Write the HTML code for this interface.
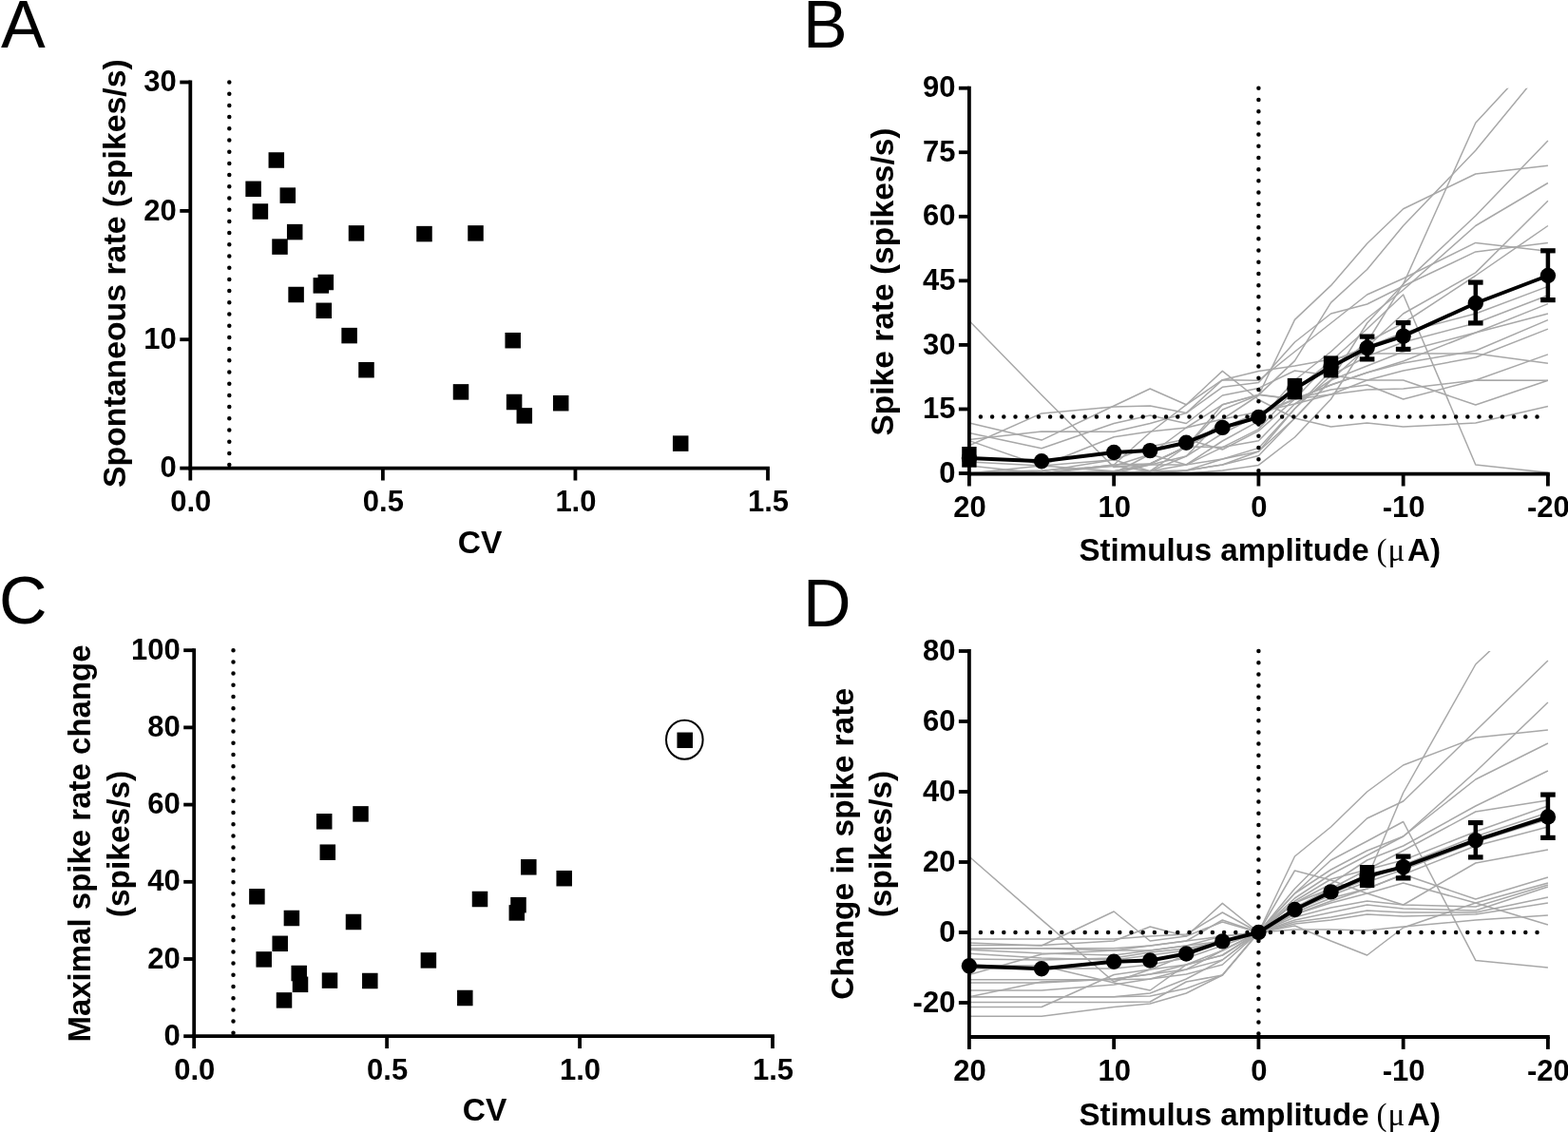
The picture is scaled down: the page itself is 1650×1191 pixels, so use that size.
<!DOCTYPE html>
<html><head><meta charset="utf-8"><title>Figure</title>
<style>html,body{margin:0;padding:0;background:#fff;} svg{display:block;} text{font-family:'Liberation Sans', Arial, Helvetica, sans-serif;fill:#000;}</style>
</head><body>
<svg width="1650" height="1191" viewBox="0 0 1650 1191">
<rect width="1650" height="1191" fill="#fff"/>
<text x='1' y='49.5' font-size='70' font-weight='normal' text-anchor='start'>A</text>
<text x='845' y='50' font-size='70' font-weight='normal' text-anchor='start'>B</text>
<text x='-1' y='656' font-size='70' font-weight='normal' text-anchor='start'>C</text>
<text x='845' y='659' font-size='70' font-weight='normal' text-anchor='start'>D</text>
<line x1='200.3' y1='84.6' x2='200.3' y2='494.5' stroke='#000' stroke-width='3.8'/>
<line x1='198.4' y1='492.6' x2='809.9' y2='492.6' stroke='#000' stroke-width='3.8'/>
<line x1='189.3' y1='86.5' x2='200.3' y2='86.5' stroke='#000' stroke-width='3.8'/>
<text x='185.8' y='96.1' font-size='31' font-weight='bold' text-anchor='end'>30</text>
<line x1='189.3' y1='221.9' x2='200.3' y2='221.9' stroke='#000' stroke-width='3.8'/>
<text x='185.8' y='231.5' font-size='31' font-weight='bold' text-anchor='end'>20</text>
<line x1='189.3' y1='357.2' x2='200.3' y2='357.2' stroke='#000' stroke-width='3.8'/>
<text x='185.8' y='366.8' font-size='31' font-weight='bold' text-anchor='end'>10</text>
<line x1='189.3' y1='492.6' x2='200.3' y2='492.6' stroke='#000' stroke-width='3.8'/>
<text x='185.8' y='502.2' font-size='31' font-weight='bold' text-anchor='end'>0</text>
<line x1='200.3' y1='492.6' x2='200.3' y2='505.5' stroke='#000' stroke-width='3.8'/>
<text x='200.8' y='537.5' font-size='31' font-weight='bold' text-anchor='middle'>0.0</text>
<line x1='402.87' y1='492.6' x2='402.87' y2='505.5' stroke='#000' stroke-width='3.8'/>
<text x='403.37' y='537.5' font-size='31' font-weight='bold' text-anchor='middle'>0.5</text>
<line x1='605.43' y1='492.6' x2='605.43' y2='505.5' stroke='#000' stroke-width='3.8'/>
<text x='605.93' y='537.5' font-size='31' font-weight='bold' text-anchor='middle'>1.0</text>
<line x1='808' y1='492.6' x2='808' y2='505.5' stroke='#000' stroke-width='3.8'/>
<text x='808.5' y='537.5' font-size='31' font-weight='bold' text-anchor='middle'>1.5</text>
<line x1='241.3' y1='86.5' x2='241.3' y2='490.6' stroke='#000' stroke-width='4.5' stroke-linecap='round' stroke-dasharray='0 12.2'/>
<rect x='282.55' y='160.25' width='16.5' height='16.5' fill='#000'/>
<rect x='258.35' y='190.55' width='16.5' height='16.5' fill='#000'/>
<rect x='294.55' y='197.35' width='16.5' height='16.5' fill='#000'/>
<rect x='265.65' y='214.25' width='16.5' height='16.5' fill='#000'/>
<rect x='301.95' y='235.85' width='16.5' height='16.5' fill='#000'/>
<rect x='366.75' y='237.15' width='16.5' height='16.5' fill='#000'/>
<rect x='438.25' y='237.85' width='16.5' height='16.5' fill='#000'/>
<rect x='492.25' y='237.15' width='16.5' height='16.5' fill='#000'/>
<rect x='286.25' y='251.35' width='16.5' height='16.5' fill='#000'/>
<rect x='334.55' y='288.75' width='16.5' height='16.5' fill='#000'/>
<rect x='329.55' y='292.15' width='16.5' height='16.5' fill='#000'/>
<rect x='303.35' y='301.75' width='16.5' height='16.5' fill='#000'/>
<rect x='332.55' y='318.55' width='16.5' height='16.5' fill='#000'/>
<rect x='359.35' y='344.85' width='16.5' height='16.5' fill='#000'/>
<rect x='377.25' y='380.95' width='16.5' height='16.5' fill='#000'/>
<rect x='476.75' y='404.15' width='16.5' height='16.5' fill='#000'/>
<rect x='531.45' y='349.95' width='16.5' height='16.5' fill='#000'/>
<rect x='532.85' y='414.75' width='16.5' height='16.5' fill='#000'/>
<rect x='543.55' y='429.15' width='16.5' height='16.5' fill='#000'/>
<rect x='581.95' y='415.95' width='16.5' height='16.5' fill='#000'/>
<rect x='707.95' y='458.35' width='16.5' height='16.5' fill='#000'/>
<text x='131.5' y='513' font-size='33.8' font-weight='bold' text-anchor='start' transform='rotate(-90 131.5 513)'>Spontaneous rate (spikes/s)</text>
<text x='505' y='581.5' font-size='33.5' font-weight='bold' text-anchor='middle'>CV</text>
<line x1='204.2' y1='682.3' x2='204.2' y2='1092.1' stroke='#000' stroke-width='3.8'/>
<line x1='202.3' y1='1090.2' x2='814.9' y2='1090.2' stroke='#000' stroke-width='3.8'/>
<line x1='193.2' y1='684.2' x2='204.2' y2='684.2' stroke='#000' stroke-width='3.8'/>
<text x='189.7' y='693.8' font-size='31' font-weight='bold' text-anchor='end'>100</text>
<line x1='193.2' y1='765.4' x2='204.2' y2='765.4' stroke='#000' stroke-width='3.8'/>
<text x='189.7' y='775' font-size='31' font-weight='bold' text-anchor='end'>80</text>
<line x1='193.2' y1='846.6' x2='204.2' y2='846.6' stroke='#000' stroke-width='3.8'/>
<text x='189.7' y='856.2' font-size='31' font-weight='bold' text-anchor='end'>60</text>
<line x1='193.2' y1='927.8' x2='204.2' y2='927.8' stroke='#000' stroke-width='3.8'/>
<text x='189.7' y='937.4' font-size='31' font-weight='bold' text-anchor='end'>40</text>
<line x1='193.2' y1='1009' x2='204.2' y2='1009' stroke='#000' stroke-width='3.8'/>
<text x='189.7' y='1018.6' font-size='31' font-weight='bold' text-anchor='end'>20</text>
<line x1='193.2' y1='1090.2' x2='204.2' y2='1090.2' stroke='#000' stroke-width='3.8'/>
<text x='189.7' y='1099.8' font-size='31' font-weight='bold' text-anchor='end'>0</text>
<line x1='204.2' y1='1090.2' x2='204.2' y2='1103.1' stroke='#000' stroke-width='3.8'/>
<text x='204.7' y='1135.5' font-size='31' font-weight='bold' text-anchor='middle'>0.0</text>
<line x1='407.13' y1='1090.2' x2='407.13' y2='1103.1' stroke='#000' stroke-width='3.8'/>
<text x='407.63' y='1135.5' font-size='31' font-weight='bold' text-anchor='middle'>0.5</text>
<line x1='610.07' y1='1090.2' x2='610.07' y2='1103.1' stroke='#000' stroke-width='3.8'/>
<text x='610.57' y='1135.5' font-size='31' font-weight='bold' text-anchor='middle'>1.0</text>
<line x1='813' y1='1090.2' x2='813' y2='1103.1' stroke='#000' stroke-width='3.8'/>
<text x='813.5' y='1135.5' font-size='31' font-weight='bold' text-anchor='middle'>1.5</text>
<line x1='245.5' y1='684.2' x2='245.5' y2='1088.2' stroke='#000' stroke-width='4.5' stroke-linecap='round' stroke-dasharray='0 12.2'/>
<rect x='371.25' y='848.15' width='16.5' height='16.5' fill='#000'/>
<rect x='332.95' y='856.05' width='16.5' height='16.5' fill='#000'/>
<rect x='336.55' y='888.45' width='16.5' height='16.5' fill='#000'/>
<rect x='262.15' y='935.05' width='16.5' height='16.5' fill='#000'/>
<rect x='496.75' y='937.75' width='16.5' height='16.5' fill='#000'/>
<rect x='298.65' y='957.75' width='16.5' height='16.5' fill='#000'/>
<rect x='363.75' y='961.75' width='16.5' height='16.5' fill='#000'/>
<rect x='286.45' y='984.55' width='16.5' height='16.5' fill='#000'/>
<rect x='269.45' y='1001.15' width='16.5' height='16.5' fill='#000'/>
<rect x='442.65' y='1002.15' width='16.5' height='16.5' fill='#000'/>
<rect x='306.45' y='1015.75' width='16.5' height='16.5' fill='#000'/>
<rect x='307.75' y='1027.55' width='16.5' height='16.5' fill='#000'/>
<rect x='338.75' y='1023.35' width='16.5' height='16.5' fill='#000'/>
<rect x='381.05' y='1023.75' width='16.5' height='16.5' fill='#000'/>
<rect x='290.75' y='1044.15' width='16.5' height='16.5' fill='#000'/>
<rect x='481.05' y='1041.75' width='16.5' height='16.5' fill='#000'/>
<rect x='548.05' y='904.05' width='16.5' height='16.5' fill='#000'/>
<rect x='585.45' y='915.95' width='16.5' height='16.5' fill='#000'/>
<rect x='537.25' y='943.95' width='16.5' height='16.5' fill='#000'/>
<rect x='535.55' y='952.15' width='16.5' height='16.5' fill='#000'/>
<rect x='712.45' y='770.55' width='16.5' height='16.5' fill='#000'/>
<ellipse cx='720.3' cy='778.2' rx='19.3' ry='20.5' fill='none' stroke='#000' stroke-width='2'/>
<text x='95.4' y='887.5' font-size='33' font-weight='bold' text-anchor='middle' transform='rotate(-90 95.4 887.5)'>Maximal spike rate change</text>
<text x='135.7' y='888' font-size='33.5' font-weight='bold' text-anchor='middle' transform='rotate(-90 135.7 888)'>(spikes/s)</text>
<text x='510' y='1179.3' font-size='33.5' font-weight='bold' text-anchor='middle'>CV</text>
<clipPath id='clip10697'><rect x='1019.9' y='92.8' width='611' height='405.8'/></clipPath>
<g clip-path='url(#clip10697)' fill='none' stroke='#a8a8a8' stroke-width='1.5' stroke-linejoin='round'>
<polyline points='1019.9,498 1096.03,498 1172.15,498 1210.21,489 1248.28,480 1286.34,441 1324.4,416 1362.46,336.4 1400.53,300.4 1438.59,256.2 1476.65,219.8 1552.78,183 1628.9,174.3'/>
<polyline points='1019.9,498 1096.03,498 1172.15,495.7 1210.21,488 1248.28,470 1286.34,431 1324.4,415.6 1362.46,379.6 1400.53,318.4 1438.59,283.5 1476.65,237.6 1552.78,158.2 1628.9,65.7'/>
<polyline points='1019.9,498 1096.03,498 1172.15,498 1210.21,495.7 1248.28,495 1286.34,483 1324.4,475 1362.46,440 1400.53,400 1438.59,340 1476.65,299 1552.78,129.3 1628.9,47'/>
<polyline points='1019.9,498 1096.03,498 1172.15,498 1210.21,498 1248.28,498 1286.34,495 1324.4,489.4 1362.46,460 1400.53,420 1438.59,360 1476.65,298.6 1552.78,227 1628.9,148.1'/>
<polyline points='1019.9,490 1096.03,498 1172.15,498 1210.21,478 1248.28,489 1286.34,464 1324.4,443.1 1362.46,400 1400.53,370 1438.59,335 1476.65,305 1552.78,237.5 1628.9,192.5'/>
<polyline points='1019.9,498 1096.03,490 1172.15,495.7 1210.21,498 1248.28,495 1286.34,489 1324.4,479.5 1362.46,440 1400.53,400 1438.59,365 1476.65,330 1552.78,286.9 1628.9,211.3'/>
<polyline points='1019.9,498 1096.03,498 1172.15,498 1210.21,498 1248.28,495 1286.34,489 1324.4,475 1362.46,430 1400.53,390 1438.59,360 1476.65,340 1552.78,290 1628.9,237.5'/>
<polyline points='1019.9,462.6 1096.03,454 1172.15,454.2 1210.21,445.5 1248.28,434.6 1286.34,399.7 1324.4,400.3 1362.46,370 1400.53,340 1438.59,310 1476.65,293 1552.78,255.4 1628.9,264.2'/>
<polyline points='1019.9,468.7 1096.03,434.9 1172.15,428 1210.21,427 1248.28,434.6 1286.34,407.3 1324.4,402.5 1362.46,360 1400.53,330 1438.59,320 1476.65,301 1552.78,264.9 1628.9,255.4'/>
<polyline points='1019.9,498 1096.03,498 1172.15,489 1210.21,488 1248.28,470 1286.34,470.6 1324.4,451.6 1362.46,410 1400.53,380 1438.59,365 1476.65,350 1552.78,330 1628.9,301.4'/>
<polyline points='1019.9,497 1096.03,495 1172.15,490.3 1210.21,495.7 1248.28,489 1286.34,483 1324.4,471.4 1362.46,430 1400.53,395 1438.59,375 1476.65,360 1552.78,340 1628.9,310.8'/>
<polyline points='1019.9,498 1096.03,498 1172.15,495.7 1210.21,489 1248.28,489 1286.34,470.6 1324.4,463.8 1362.46,425 1400.53,400 1438.59,385 1476.65,370 1552.78,350 1628.9,319.6'/>
<polyline points='1019.9,498 1096.03,498 1172.15,498 1210.21,495.7 1248.28,480 1286.34,456 1324.4,437.2 1362.46,420 1400.53,405 1438.59,392 1476.65,382 1552.78,369 1628.9,336.6'/>
<polyline points='1019.9,463.6 1096.03,490 1172.15,459.7 1210.21,454 1248.28,450 1286.34,441 1324.4,433.2 1362.46,425 1400.53,415 1438.59,400 1476.65,390 1552.78,376 1628.9,346.1'/>
<polyline points='1019.9,498 1096.03,498 1172.15,489 1210.21,455 1248.28,425.8 1286.34,399.7 1324.4,390.4 1362.46,385 1400.53,378 1438.59,372 1476.65,372 1552.78,372 1628.9,382.3'/>
<polyline points='1019.9,498 1096.03,498 1172.15,490.3 1210.21,478 1248.28,450 1286.34,425.8 1324.4,415.1 1362.46,420 1400.53,410 1438.59,405 1476.65,420 1552.78,400 1628.9,372.9'/>
<polyline points='1019.9,498 1096.03,496 1172.15,483.7 1210.21,495.7 1248.28,470 1286.34,425.8 1324.4,415.6 1362.46,420 1400.53,415 1438.59,410 1476.65,409 1552.78,400 1628.9,400.2'/>
<polyline points='1019.9,455.6 1096.03,471.7 1172.15,445.5 1210.21,437 1248.28,445.5 1286.34,416 1324.4,408.4 1362.46,390 1400.53,395 1438.59,400 1476.65,400 1552.78,426 1628.9,400.2'/>
<polyline points='1019.9,445 1096.03,463.1 1172.15,427 1210.21,409 1248.28,425.8 1286.34,390.4 1324.4,420.5 1362.46,440 1400.53,449 1438.59,445 1476.65,449 1552.78,445 1628.9,427.4'/>
<polyline points='1019.9,486 1096.03,490 1172.15,483.7 1210.21,470 1248.28,462 1286.34,473 1324.4,453.4 1362.46,420 1400.53,380 1438.59,346 1476.65,310 1552.78,489 1628.9,497.3'/>
<polyline points='1019.9,337.5 1096.03,415.6 1172.15,491.6 1210.21,488 1248.28,470 1286.34,450 1324.4,434.1 1362.46,420 1400.53,405 1438.59,392 1476.65,380 1552.78,350 1628.9,330'/>
</g>
<line x1='1031.9' y1='438.6' x2='1628.9' y2='438.6' stroke='#000' stroke-width='4.5' stroke-linecap='round' stroke-dasharray='0 12.2'/>
<line x1='1324.4' y1='92.73' x2='1324.4' y2='496.6' stroke='#000' stroke-width='4.5' stroke-linecap='round' stroke-dasharray='0 12.2'/>
<line x1='1019.9' y1='90.83' x2='1019.9' y2='500.5' stroke='#000' stroke-width='3.8'/>
<line x1='1018' y1='498.6' x2='1630.8' y2='498.6' stroke='#000' stroke-width='3.8'/>
<line x1='1008.9' y1='92.73' x2='1019.9' y2='92.73' stroke='#000' stroke-width='3.8'/>
<text x='1005.4' y='102.33' font-size='31' font-weight='bold' text-anchor='end'>90</text>
<line x1='1008.9' y1='160.27' x2='1019.9' y2='160.27' stroke='#000' stroke-width='3.8'/>
<text x='1005.4' y='169.87' font-size='31' font-weight='bold' text-anchor='end'>75</text>
<line x1='1008.9' y1='227.82' x2='1019.9' y2='227.82' stroke='#000' stroke-width='3.8'/>
<text x='1005.4' y='237.42' font-size='31' font-weight='bold' text-anchor='end'>60</text>
<line x1='1008.9' y1='295.37' x2='1019.9' y2='295.37' stroke='#000' stroke-width='3.8'/>
<text x='1005.4' y='304.97' font-size='31' font-weight='bold' text-anchor='end'>45</text>
<line x1='1008.9' y1='362.91' x2='1019.9' y2='362.91' stroke='#000' stroke-width='3.8'/>
<text x='1005.4' y='372.51' font-size='31' font-weight='bold' text-anchor='end'>30</text>
<line x1='1008.9' y1='430.45' x2='1019.9' y2='430.45' stroke='#000' stroke-width='3.8'/>
<text x='1005.4' y='440.06' font-size='31' font-weight='bold' text-anchor='end'>15</text>
<line x1='1008.9' y1='498' x2='1019.9' y2='498' stroke='#000' stroke-width='3.8'/>
<text x='1005.4' y='507.6' font-size='31' font-weight='bold' text-anchor='end'>0</text>
<line x1='1019.9' y1='498.6' x2='1019.9' y2='511.5' stroke='#000' stroke-width='3.8'/>
<text x='1020.4' y='543.5' font-size='31' font-weight='bold' text-anchor='middle'>20</text>
<line x1='1172.15' y1='498.6' x2='1172.15' y2='511.5' stroke='#000' stroke-width='3.8'/>
<text x='1172.65' y='543.5' font-size='31' font-weight='bold' text-anchor='middle'>10</text>
<line x1='1324.4' y1='498.6' x2='1324.4' y2='511.5' stroke='#000' stroke-width='3.8'/>
<text x='1324.9' y='543.5' font-size='31' font-weight='bold' text-anchor='middle'>0</text>
<line x1='1476.65' y1='498.6' x2='1476.65' y2='511.5' stroke='#000' stroke-width='3.8'/>
<text x='1477.15' y='543.5' font-size='31' font-weight='bold' text-anchor='middle'>-10</text>
<line x1='1628.9' y1='498.6' x2='1628.9' y2='511.5' stroke='#000' stroke-width='3.8'/>
<text x='1629.4' y='543.5' font-size='31' font-weight='bold' text-anchor='middle'>-20</text>
<polyline points='1019.9,482 1096.03,485.3 1172.15,476 1210.21,474.1 1248.28,465.7 1286.34,449.9 1324.4,439 1362.46,409 1400.53,386 1438.59,366 1476.65,353.6 1552.78,319 1628.9,290' fill='none' stroke='#000' stroke-width='4' stroke-linejoin='round'/>
<rect x='1012.2' y='470' width='15.4' height='21.7' fill='#000'/>
<circle cx='1019.9' cy='482' r='8.2' fill='#000'/>
<circle cx='1096.03' cy='485.3' r='8.2' fill='#000'/>
<circle cx='1172.15' cy='476' r='8.2' fill='#000'/>
<circle cx='1210.21' cy='474.1' r='8.2' fill='#000'/>
<circle cx='1248.28' cy='465.7' r='8.2' fill='#000'/>
<circle cx='1286.34' cy='449.9' r='8.2' fill='#000'/>
<circle cx='1324.4' cy='439' r='8.2' fill='#000'/>
<rect x='1354.76' y='397.9' width='15.4' height='22.4' fill='#000'/>
<circle cx='1362.46' cy='409' r='8.2' fill='#000'/>
<rect x='1392.83' y='374.4' width='15.4' height='23' fill='#000'/>
<circle cx='1400.53' cy='386' r='8.2' fill='#000'/>
<line x1='1438.59' y1='353.5' x2='1438.59' y2='378.5' stroke='#000' stroke-width='4.5'/>
<line x1='1430.79' y1='354.1' x2='1446.39' y2='354.1' stroke='#000' stroke-width='5.2'/>
<line x1='1430.79' y1='377.9' x2='1446.39' y2='377.9' stroke='#000' stroke-width='5.2'/>
<circle cx='1438.59' cy='366' r='8.2' fill='#000'/>
<line x1='1476.65' y1='339' x2='1476.65' y2='368' stroke='#000' stroke-width='4.5'/>
<line x1='1468.85' y1='339.6' x2='1484.45' y2='339.6' stroke='#000' stroke-width='5.2'/>
<line x1='1468.85' y1='367.4' x2='1484.45' y2='367.4' stroke='#000' stroke-width='5.2'/>
<circle cx='1476.65' cy='353.6' r='8.2' fill='#000'/>
<line x1='1552.78' y1='296.5' x2='1552.78' y2='340.5' stroke='#000' stroke-width='4.5'/>
<line x1='1544.98' y1='297.1' x2='1560.58' y2='297.1' stroke='#000' stroke-width='5.2'/>
<line x1='1544.98' y1='339.9' x2='1560.58' y2='339.9' stroke='#000' stroke-width='5.2'/>
<circle cx='1552.78' cy='319' r='8.2' fill='#000'/>
<line x1='1628.9' y1='263.2' x2='1628.9' y2='316.2' stroke='#000' stroke-width='4.5'/>
<line x1='1621.1' y1='263.8' x2='1636.7' y2='263.8' stroke='#000' stroke-width='5.2'/>
<line x1='1621.1' y1='315.6' x2='1636.7' y2='315.6' stroke='#000' stroke-width='5.2'/>
<circle cx='1628.9' cy='290' r='8.2' fill='#000'/>
<text x='939.5' y='458.5' font-size='33.5' font-weight='bold' text-anchor='start' transform='rotate(-90 939.5 458.5)'>Spike rate (spikes/s)</text>
<text x='1135.5' y='589.5' font-size='33.1' font-weight='bold' text-anchor='start'>Stimulus amplitude <tspan x='1448.6' font-family="'Liberation Serif', serif" font-weight='normal'>(</tspan><tspan x='1460.5' font-family="'Liberation Serif', serif" font-weight='normal'>μ</tspan><tspan x='1481'>A)</tspan></text>
<clipPath id='clip11290'><rect x='1019.9' y='685' width='611' height='406'/></clipPath>
<g clip-path='url(#clip11290)' fill='none' stroke='#a8a8a8' stroke-width='1.5' stroke-linejoin='round'>
<polyline points='1019.9,901.2 1096.03,967.6 1172.15,1033 1210.21,1020 1248.28,1005 1286.34,990 1324.4,981 1362.46,950 1400.53,935 1438.59,924 1476.65,834 1552.78,699 1628.9,627'/>
<polyline points='1019.9,988.1 1096.03,988.1 1172.15,988.1 1210.21,985 1248.28,983 1286.34,960 1324.4,981 1362.46,935 1400.53,897 1438.59,861 1476.65,843 1552.78,769 1628.9,695'/>
<polyline points='1019.9,992 1096.03,995 1172.15,959 1210.21,990 1248.28,985 1286.34,970 1324.4,981 1362.46,901 1400.53,870 1438.59,833 1476.65,805 1552.78,776 1628.9,768'/>
<polyline points='1019.9,994.4 1096.03,994.4 1172.15,990 1210.21,975 1248.28,985 1286.34,950.4 1324.4,981 1362.46,940 1400.53,915 1438.59,895 1476.65,880 1552.78,812 1628.9,739'/>
<polyline points='1019.9,997.8 1096.03,997.8 1172.15,997.8 1210.21,995 1248.28,990 1286.34,968 1324.4,981 1362.46,945 1400.53,920 1438.59,900 1476.65,880 1552.78,820 1628.9,782'/>
<polyline points='1019.9,997.8 1096.03,997.8 1172.15,1000 1210.21,1000 1248.28,995 1286.34,985 1324.4,981 1362.46,950 1400.53,930 1438.59,905 1476.65,890 1552.78,848 1628.9,811'/>
<polyline points='1019.9,999.3 1096.03,1003 1172.15,1005 1210.21,1000 1248.28,995 1286.34,990 1324.4,981 1362.46,955 1400.53,935 1438.59,915 1476.65,895 1552.78,854 1628.9,842'/>
<polyline points='1019.9,1003.2 1096.03,1008 1172.15,1010 1210.21,1005 1248.28,1000 1286.34,990 1324.4,981 1362.46,916 1400.53,926 1438.59,940 1476.65,952 1552.78,908 1628.9,894'/>
<polyline points='1019.9,1009 1096.03,1010 1172.15,1008 1210.21,1002 1248.28,998 1286.34,990 1324.4,981 1362.46,940 1400.53,905 1438.59,885 1476.65,864.5 1552.78,1010.4 1628.9,1018'/>
<polyline points='1019.9,1016 1096.03,1016 1172.15,1034 1210.21,1042 1248.28,1015 1286.34,1000 1324.4,981 1362.46,960 1400.53,945 1438.59,935 1476.65,920 1552.78,946 1628.9,923'/>
<polyline points='1019.9,1019 1096.03,1019 1172.15,1019 1210.21,1015 1248.28,1008 1286.34,995 1324.4,981 1362.46,962 1400.53,950 1438.59,940 1476.65,929 1552.78,950 1628.9,929'/>
<polyline points='1019.9,1025.5 1096.03,1004 1172.15,1000 1210.21,995 1248.28,990 1286.34,985 1324.4,981 1362.46,965 1400.53,955 1438.59,948 1476.65,952 1552.78,954 1628.9,931'/>
<polyline points='1019.9,1030.8 1096.03,1030.8 1172.15,1030.8 1210.21,1030 1248.28,1020 1286.34,1010 1324.4,981 1362.46,968 1400.53,960 1438.59,952 1476.65,956 1552.78,958 1628.9,933'/>
<polyline points='1019.9,1034 1096.03,1034 1172.15,1030 1210.21,1025 1248.28,1020 1286.34,1000 1324.4,981 1362.46,970 1400.53,965 1438.59,958 1476.65,960 1552.78,960 1628.9,944'/>
<polyline points='1019.9,1042 1096.03,1042 1172.15,1036 1210.21,1030 1248.28,1025 1286.34,1015 1324.4,981 1362.46,972 1400.53,968 1438.59,962 1476.65,964 1552.78,962 1628.9,950'/>
<polyline points='1019.9,1048.8 1096.03,1048.8 1172.15,1048.8 1210.21,1045 1248.28,1030 1286.34,1010 1324.4,981 1362.46,978 1400.53,978 1438.59,979 1476.65,975 1552.78,968 1628.9,963'/>
<polyline points='1019.9,1048.8 1096.03,1033 1172.15,1030 1210.21,1025 1248.28,1015 1286.34,1005 1324.4,981 1362.46,974 1400.53,990 1438.59,1005 1476.65,976 1552.78,950 1628.9,973'/>
<polyline points='1019.9,1048.8 1096.03,1048.8 1172.15,1048.8 1210.21,1048 1248.28,1040 1286.34,1026 1324.4,981 1362.46,955 1400.53,940 1438.59,925 1476.65,910 1552.78,880 1628.9,855'/>
<polyline points='1019.9,1054.6 1096.03,1054.6 1172.15,1054.6 1210.21,1054 1248.28,1033 1286.34,1026 1324.4,981 1362.46,958 1400.53,942 1438.59,928 1476.65,915 1552.78,886 1628.9,862'/>
<polyline points='1019.9,1059.5 1096.03,1059.5 1172.15,1025.5 1210.21,1020 1248.28,1015 1286.34,1005 1324.4,981 1362.46,962 1400.53,948 1438.59,935 1476.65,920 1552.78,890 1628.9,870'/>
<polyline points='1019.9,1069.2 1096.03,1069.2 1172.15,1059.5 1210.21,1056 1248.28,1045 1286.34,1026 1324.4,981 1362.46,948 1400.53,925 1438.59,915 1476.65,905 1552.78,875 1628.9,848'/>
</g>
<line x1='1031.9' y1='981' x2='1628.9' y2='981' stroke='#000' stroke-width='4.5' stroke-linecap='round' stroke-dasharray='0 12.2'/>
<line x1='1324.4' y1='685' x2='1324.4' y2='1089' stroke='#000' stroke-width='4.5' stroke-linecap='round' stroke-dasharray='0 12.2'/>
<line x1='1019.9' y1='683.1' x2='1019.9' y2='1092.9' stroke='#000' stroke-width='3.8'/>
<line x1='1018' y1='1091' x2='1630.8' y2='1091' stroke='#000' stroke-width='3.8'/>
<line x1='1008.9' y1='685' x2='1019.9' y2='685' stroke='#000' stroke-width='3.8'/>
<text x='1005.4' y='694.6' font-size='31' font-weight='bold' text-anchor='end'>80</text>
<line x1='1008.9' y1='759' x2='1019.9' y2='759' stroke='#000' stroke-width='3.8'/>
<text x='1005.4' y='768.6' font-size='31' font-weight='bold' text-anchor='end'>60</text>
<line x1='1008.9' y1='833' x2='1019.9' y2='833' stroke='#000' stroke-width='3.8'/>
<text x='1005.4' y='842.6' font-size='31' font-weight='bold' text-anchor='end'>40</text>
<line x1='1008.9' y1='907' x2='1019.9' y2='907' stroke='#000' stroke-width='3.8'/>
<text x='1005.4' y='916.6' font-size='31' font-weight='bold' text-anchor='end'>20</text>
<line x1='1008.9' y1='981' x2='1019.9' y2='981' stroke='#000' stroke-width='3.8'/>
<text x='1005.4' y='990.6' font-size='31' font-weight='bold' text-anchor='end'>0</text>
<line x1='1008.9' y1='1055' x2='1019.9' y2='1055' stroke='#000' stroke-width='3.8'/>
<text x='1005.4' y='1064.6' font-size='31' font-weight='bold' text-anchor='end'>-20</text>
<line x1='1019.9' y1='1091' x2='1019.9' y2='1103.9' stroke='#000' stroke-width='3.8'/>
<text x='1020.4' y='1136.5' font-size='31' font-weight='bold' text-anchor='middle'>20</text>
<line x1='1172.15' y1='1091' x2='1172.15' y2='1103.9' stroke='#000' stroke-width='3.8'/>
<text x='1172.65' y='1136.5' font-size='31' font-weight='bold' text-anchor='middle'>10</text>
<line x1='1324.4' y1='1091' x2='1324.4' y2='1103.9' stroke='#000' stroke-width='3.8'/>
<text x='1324.9' y='1136.5' font-size='31' font-weight='bold' text-anchor='middle'>0</text>
<line x1='1476.65' y1='1091' x2='1476.65' y2='1103.9' stroke='#000' stroke-width='3.8'/>
<text x='1477.15' y='1136.5' font-size='31' font-weight='bold' text-anchor='middle'>-10</text>
<line x1='1628.9' y1='1091' x2='1628.9' y2='1103.9' stroke='#000' stroke-width='3.8'/>
<text x='1629.4' y='1136.5' font-size='31' font-weight='bold' text-anchor='middle'>-20</text>
<polyline points='1019.9,1016.3 1096.03,1019.2 1172.15,1011.8 1210.21,1010.5 1248.28,1003.5 1286.34,990.4 1324.4,981 1362.46,957 1400.53,938.4 1438.59,921.8 1476.65,912.1 1552.78,884.1 1628.9,859.5' fill='none' stroke='#000' stroke-width='4' stroke-linejoin='round'/>
<circle cx='1019.9' cy='1016.3' r='8.2' fill='#000'/>
<circle cx='1096.03' cy='1019.2' r='8.2' fill='#000'/>
<circle cx='1172.15' cy='1011.8' r='8.2' fill='#000'/>
<circle cx='1210.21' cy='1010.5' r='8.2' fill='#000'/>
<circle cx='1248.28' cy='1003.5' r='8.2' fill='#000'/>
<circle cx='1286.34' cy='990.4' r='8.2' fill='#000'/>
<circle cx='1324.4' cy='981' r='8.2' fill='#000'/>
<circle cx='1362.46' cy='957' r='8.2' fill='#000'/>
<circle cx='1400.53' cy='938.4' r='8.2' fill='#000'/>
<rect x='1430.89' y='910' width='15.4' height='24' fill='#000'/>
<circle cx='1438.59' cy='921.8' r='8.2' fill='#000'/>
<line x1='1476.65' y1='900.5' x2='1476.65' y2='924.5' stroke='#000' stroke-width='4.5'/>
<line x1='1468.85' y1='901.1' x2='1484.45' y2='901.1' stroke='#000' stroke-width='5.2'/>
<line x1='1468.85' y1='923.9' x2='1484.45' y2='923.9' stroke='#000' stroke-width='5.2'/>
<circle cx='1476.65' cy='912.1' r='8.2' fill='#000'/>
<line x1='1552.78' y1='865' x2='1552.78' y2='902.5' stroke='#000' stroke-width='4.5'/>
<line x1='1544.98' y1='865.6' x2='1560.58' y2='865.6' stroke='#000' stroke-width='5.2'/>
<line x1='1544.98' y1='901.9' x2='1560.58' y2='901.9' stroke='#000' stroke-width='5.2'/>
<circle cx='1552.78' cy='884.1' r='8.2' fill='#000'/>
<line x1='1628.9' y1='835.5' x2='1628.9' y2='882' stroke='#000' stroke-width='4.5'/>
<line x1='1621.1' y1='836.1' x2='1636.7' y2='836.1' stroke='#000' stroke-width='5.2'/>
<line x1='1621.1' y1='881.4' x2='1636.7' y2='881.4' stroke='#000' stroke-width='5.2'/>
<circle cx='1628.9' cy='859.5' r='8.2' fill='#000'/>
<text x='897.8' y='887.8' font-size='33.5' font-weight='bold' text-anchor='middle' transform='rotate(-90 897.8 887.8)'>Change in spike rate</text>
<text x='938.3' y='888' font-size='33.5' font-weight='bold' text-anchor='middle' transform='rotate(-90 938.3 888)'>(spikes/s)</text>
<text x='1135.5' y='1183.5' font-size='33.1' font-weight='bold' text-anchor='start'>Stimulus amplitude <tspan x='1448.6' font-family="'Liberation Serif', serif" font-weight='normal'>(</tspan><tspan x='1460.5' font-family="'Liberation Serif', serif" font-weight='normal'>μ</tspan><tspan x='1481'>A)</tspan></text>
</svg>
</body></html>
